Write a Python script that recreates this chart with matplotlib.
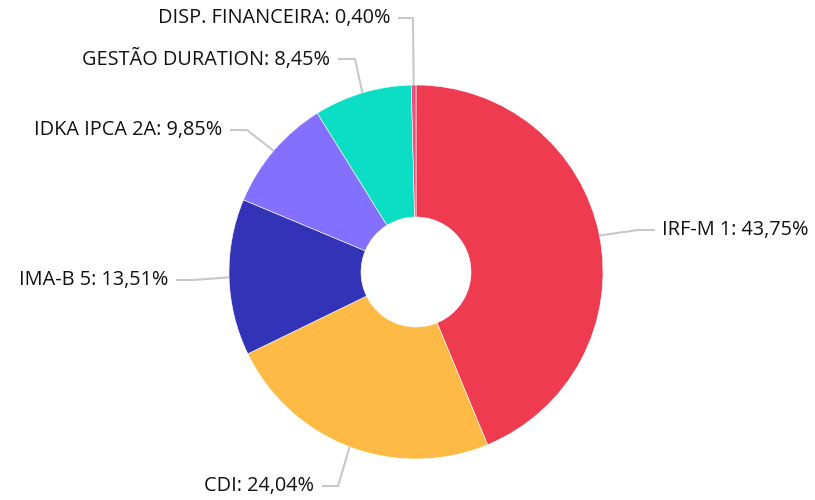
import numpy as np
import matplotlib
matplotlib.use("Agg")
import matplotlib.pyplot as plt

# data
categories = ["IRF-M 1", "CDI", "IMA-B 5", "IDKA IPCA 2A", "GESTÃO DURATION", "DISP. FINANCEIRA"]
values = [43.75, 24.04, 13.51, 9.85, 8.45, 0.40]
colors = ["#EE3B50", "#FFBA45", "#3333B7", "#8470FF", "#0CDEC6", "#F0507F"]

# layout (pixel coords, y from top)
cx, cy, r_out, r_in = 416, 272, 187, 55
# label text y, line elbow x, line end x
label_pos = {
    "IRF-M 1": (230, 638, 655),
    "CDI": (486, 338, 322),
    "IMA-B 5": (280, 193, 176),
    "IDKA IPCA 2A": (130, 247, 230),
    "GESTÃO DURATION": (59, 355, 338),
    "DISP. FINANCEIRA": (18, 413, 398),
}

plt.rcParams['font.family'] = ['Open Sans', 'DejaVu Sans']

fig = plt.figure(figsize=(8.15, 5.0), dpi=100)
ax = fig.add_axes([0, 0, 1, 1])

wedges, _ = ax.pie(values, colors=colors, startangle=90, counterclock=False,
                   center=(cx, 500 - cy), radius=r_out,
                   wedgeprops=dict(width=r_out - r_in, linewidth=0.4, edgecolor="white"),
                   frame=True)
ax.set_xlim(0, 815)
ax.set_ylim(0, 500)
ax.set_aspect("equal")
ax.axis("off")

line_col = "#C8C8C8"
total = sum(values)
cum = 0.0
for name, v in zip(categories, values):
    mid = (cum + v / 2) / total * 2 * np.pi
    cum += v
    ex = cx + r_out * np.sin(mid)
    ey = cy - r_out * np.cos(mid)
    ty, elbow, end = label_pos[name]
    ax.plot([ex, elbow, end], [500 - ey, 500 - ty, 500 - ty],
            color=line_col, linewidth=1.5, solid_capstyle="butt")
    if end > elbow:
        tx, ha = end + 7, "left"
    else:
        tx, ha = end - 8, "right"
    label = f"{name}: " + f"{v:.2f}".replace(".", ",") + "%"
    ax.text(tx, 500 - ty, label, ha=ha, va="center", fontsize=14.3, color="#111111")

fig.savefig("out.png", dpi=100)
